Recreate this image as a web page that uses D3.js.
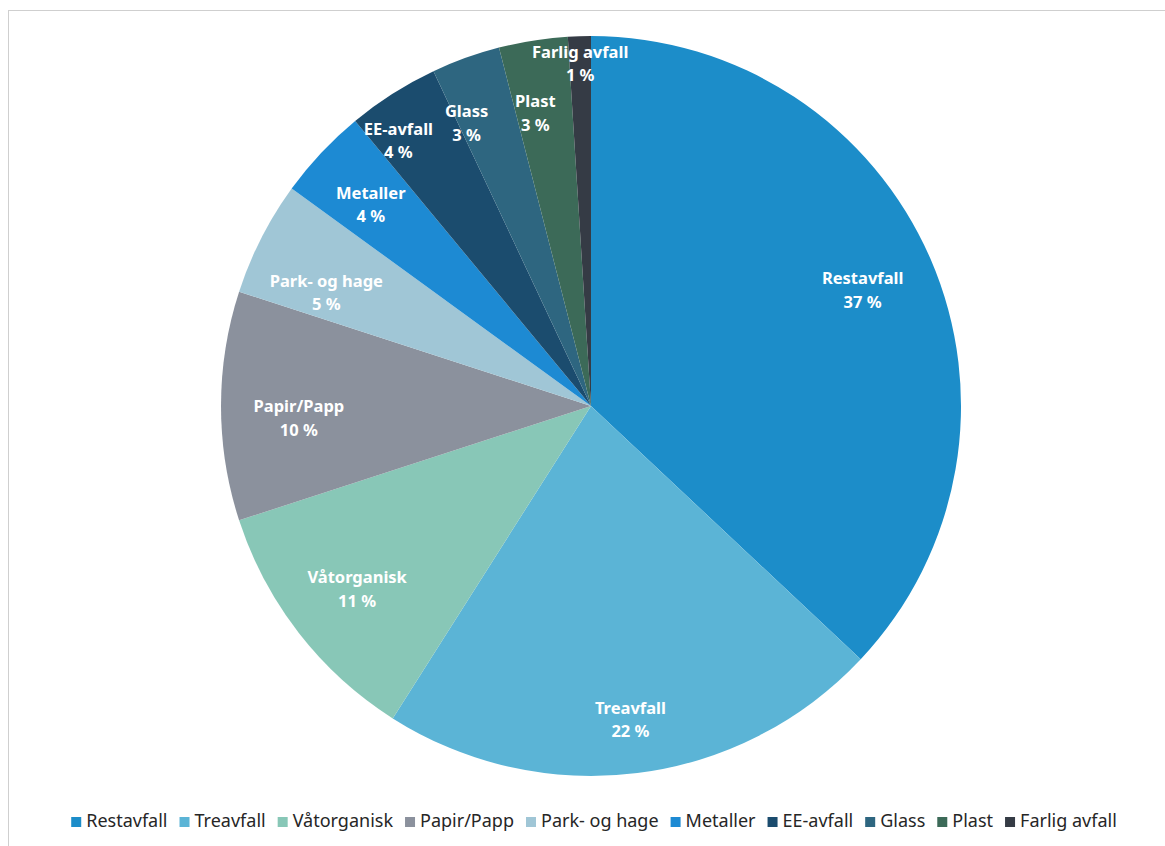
<!DOCTYPE html>
<html>
<head>
<meta charset="utf-8">
<script src="https://cdn.jsdelivr.net/npm/d3@7"></script>
<style>
  body { margin: 0; background: #fff; }
  svg { display: block; }
</style>
</head>
<body>
<div id="chart"></div>
<script>
// data
const categories = ["Restavfall", "Treavfall", "Våtorganisk", "Papir/Papp", "Park- og hage",
    "Metaller", "EE-avfall", "Glass", "Plast", "Farlig avfall"];
const shares = [37, 22, 11, 10, 5, 4, 4, 3, 3, 1];
const colors = ["#1c8dc9", "#5bb4d6", "#88c7b7", "#8b919d", "#a0c6d6",
    "#1d8ad3", "#1b4c6e", "#2e6680", "#3c6a58", "#353b45"];

// cons
const w = 1165;
const h = 846;
const cx = 591;
const cy = 406;
const r = 370;
const label_font = "'Noto Sans', sans-serif";

// label placement tweaks: [part of radius, angle shift in degrees] (best fit, like excel)
const label_fit = {
    "Restavfall": [0.8, 0],
    "Treavfall": [0.85, 0],
    "Papir/Papp": [0.79, -2],
    "Park- og hage": [0.78, -3.5],
    "Metaller": [0.81, -0.5],
    "EE-avfall": [0.89, -3.4],
    "Glass": [0.84, -3.8],
    "Plast": [0.81, -1.7],
    "Farlig avfall": [0.93, 0]
};

const svg = d3.select("#chart")
    .append("svg")
    .attr("width", w)
    .attr("height", h);

// frame of the scanned page
svg.append("rect")
    .attr("x", 8.5)
    .attr("y", 10.5)
    .attr("width", w)
    .attr("height", h)
    .attr("fill", "none")
    .attr("stroke", "#cfcfcf");

const rows = categories.map((c, i) => ({ name: c, value: shares[i], color: colors[i] }));

const pie = d3.pie().sort(null).value(d => d.value);
const arc = d3.arc().innerRadius(0).outerRadius(r);

const g = svg.append("g").attr("transform", `translate(${cx},${cy})`);

const arcs = pie(rows);

g.selectAll("path.slice")
    .data(arcs)
    .join("path")
    .attr("class", "slice")
    .attr("fill", d => d.data.color)
    .attr("d", arc);

// labels
arcs.forEach(d => {
    const fit = label_fit[d.data.name] || [0.8, 0];
    const a = (d.startAngle + d.endAngle) / 2 + fit[1] * Math.PI / 180;
    const x = Math.sin(a) * r * fit[0];
    const y = -Math.cos(a) * r * fit[0];
    const t = g.append("text")
        .attr("x", x)
        .attr("y", y)
        .attr("text-anchor", "middle")
        .attr("fill", "#fff")
        .style("font-family", label_font)
        .style("font-weight", "bold")
        .style("font-size", "16.5px");
    t.append("tspan").attr("x", x).attr("dy", "-0.25em").text(d.data.name);
    t.append("tspan").attr("x", x).attr("dy", "1.42em").text(d.data.value + " %");
});

// legend
const legend = svg.append("g");
const items = legend.selectAll("g")
    .data(rows)
    .join("g");
items.append("rect")
    .attr("width", 10)
    .attr("height", 10)
    .attr("y", -10)
    .attr("fill", d => d.color);
items.append("text")
    .attr("x", 15)
    .attr("fill", "#262626")
    .style("font-family", label_font)
    .style("font-size", "18px")
    .text(d => d.name);

let pos = 0;
items.each(function () {
    const tw = d3.select(this).select("text").node().getComputedTextLength();
    d3.select(this).attr("transform", `translate(${pos},0)`);
    pos += 15 + tw + 12;
});
const total = pos - 12;
legend.attr("transform", `translate(${594 - total / 2},827)`);
</script>
</body>
</html>
